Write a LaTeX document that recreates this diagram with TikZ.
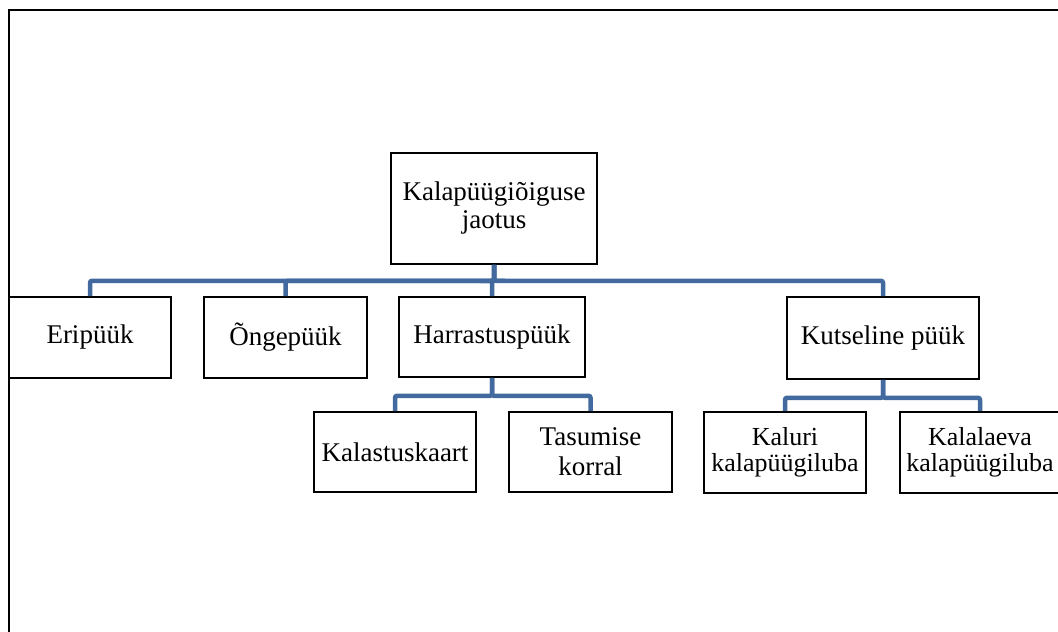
\documentclass[tikz,border=0pt]{standalone}
\usepackage{fontspec}
\setmainfont{Liberation Serif}
\definecolor{linkblue}{RGB}{66,106,158}
\begin{document}
\begin{tikzpicture}[x=1pt,y=-1pt,
  box/.style={draw=black,line width=1.6pt,fill=white,inner sep=0pt,align=center,
    font=\fontsize{27}{28}\selectfont},
  conn/.style={draw=linkblue,line width=4.5pt,rounded corners=2pt}]
\useasboundingbox (0,0) rectangle (1058,632);
\clip (0,0) rectangle (1058,632);
% outer frame (top and left edges)
\draw[line width=2pt] (9,640) -- (9,10) -- (1070,10);

% boxes
\node[box,minimum width=206pt,minimum height=111pt] (root) at (494,208.5) {Kalapüügiõiguse\\jaotus};
\node[box,minimum width=162pt,minimum height=81pt] (eri) at (90,337.5) {Eripüük};
\node[box,minimum width=163pt,minimum height=81pt] (onge) at (285.5,337.5) {Õngepüük};
\node[box,minimum width=186pt,minimum height=80pt] (harr) at (492,337) {Harrastuspüük};
\node[box,minimum width=192pt,minimum height=82pt] (kut) at (883,338) {Kutseline püük};
\node[box,minimum width=162pt,minimum height=80pt] (kaart) at (395,452) {Kalastuskaart};
\node[box,minimum width=163pt,minimum height=80pt,font=\fontsize{27}{30}\selectfont] (tasu) at (590.5,452) {Tasumise\\korral};
\node[box,minimum width=162pt,minimum height=81pt,font=\fontsize{26}{26}\selectfont] (kaluri) at (785,452.5) {Kaluri\\kalapüügiluba};
\node[box,minimum width=160pt,minimum height=81pt,font=\fontsize{26}{26}\selectfont] (laev) at (980,452.5) {Kalalaeva\\kalapüügiluba};

% connectors
\foreach \c in {eri,onge,harr,kut}
  \draw[conn] (root.south) -- ++(0,16) -| (\c.north);
\foreach \c in {kaart,tasu}
  \draw[conn] (harr.south) -- ++(0,18) -| (\c.north);
\foreach \c in {kaluri,laev}
  \draw[conn] (kut.south) -- ++(0,18) -| (\c.north);
\end{tikzpicture}
\end{document}
